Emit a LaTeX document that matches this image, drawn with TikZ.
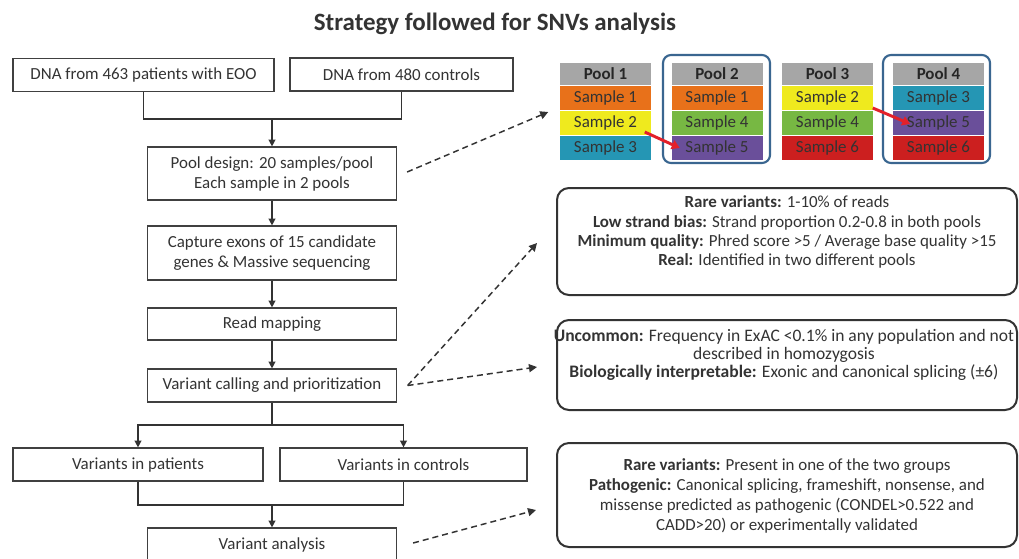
\documentclass[tikz,border=0pt]{standalone}
\usepackage{fontspec}
\setmainfont{Carlito}
\usetikzlibrary{arrows.meta,calc}

\definecolor{ink}{HTML}{333333}
\definecolor{boxc}{HTML}{404040}
\definecolor{hdr}{HTML}{A6A6A6}
\definecolor{orng}{HTML}{E8711A}
\definecolor{yell}{HTML}{EFEA1E}
\definecolor{teal}{HTML}{2596B4}
\definecolor{grn}{HTML}{77B843}
\definecolor{purp}{HTML}{6A4F9A}
\definecolor{redc}{HTML}{CC1F1F}
\definecolor{framec}{HTML}{3A6690}
\definecolor{arrred}{HTML}{E3202A}

\newdimen\upx
\upx=0.75pt
\newcommand\lfont{\fontsize{12.7}{15}\selectfont}
\newcommand\rfont{\fontsize{12.7}{14.3}\selectfont}
\newcommand\ufont{\fontsize{13.15}{13.8}\selectfont}
\newcommand\pfont{\fontsize{12.7}{15.2}\selectfont}
\newcommand\tfont{\fontsize{18.7}{22}\selectfont\bfseries}

\begin{document}
\begin{tikzpicture}[x=0.75pt,y=-0.75pt,
  lbox/.style={draw=boxc, line width=0.9pt, fill=white, align=center,
    inner sep=0pt, font=\lfont, text=ink, minimum width=249\upx},
  conn/.style={draw=ink, line width=1pt},
  arr/.style={conn, -{Triangle[width=5pt,length=5pt]}},
  cell/.style={minimum width=92\upx, minimum height=25\upx, inner sep=0pt,
    draw=white, line width=0.4pt, font=\lfont, text=black!80},
  hcell/.style={cell, minimum height=23\upx, fill=hdr, font=\lfont\bfseries, text=black!85},
  frame/.style={draw=framec, line width=1.6pt, rounded corners=6pt,
    minimum width=107\upx, minimum height=108\upx, inner sep=0pt},
  redarr/.style={draw=arrred, line width=2.2pt, -{Triangle[width=7pt,length=6pt]}},
  rbox/.style={draw=ink, line width=1.5pt, rounded corners=9pt,
    minimum width=460\upx, inner sep=0pt},
  rtext/.style={align=center, font=\rfont, text=ink, inner sep=0pt},
  dasharr/.style={draw=ink, line width=1.1pt, dash pattern=on 4.5pt off 3pt,
    -{Triangle[width=6pt,length=6pt]}}]

\useasboundingbox (0,0) rectangle (1019,558);
\fill[white] (0,0) rectangle (1019,558);

% title
\node[font=\tfont, text=ink, anchor=base, inner sep=0pt] (title) at (495,30)
  {Strategy followed for SNVs analysis};

% workflow on the left
\node[lbox, minimum width=261\upx, minimum height=33\upx] (pat) at (143.5,75)
  {DNA from 463 patients with EOO};
\node[lbox, minimum width=223\upx, minimum height=33\upx] (ctl) at (401.5,74.5)
  {DNA from 480 controls};
\node[lbox, minimum height=53\upx] (pool) at (272,173.5)
  {Pool design: 20 samples/pool\\Each sample in 2 pools};
\node[lbox, minimum height=54\upx] (capt) at (272,253)
  {Capture exons of 15 candidate\\genes \& Massive sequencing};
\node[lbox, minimum height=32\upx] (map) at (272,324) {Read mapping};
\node[lbox, minimum height=33\upx] (call) at (272,385.5)
  {Variant calling and prioritization};
\node[lbox, minimum width=250\upx, minimum height=33\upx] (vpat) at (138,464.5)
  {Variants in patients};
\node[lbox, minimum width=247\upx, minimum height=33\upx] (vctl) at (403.5,464.5)
  {Variants in controls};
\node[lbox, minimum height=33\upx] (ana) at (272,544.5) {Variant analysis};

\coordinate (j1) at (272,119);
\draw[conn] (pat.south) |- (j1) -| (ctl.south);
\draw[arr] (j1) -- (pool.north);
\draw[arr] (pool) -- (capt);
\draw[arr] (capt) -- (map);
\draw[arr] (map) -- (call);
\coordinate (j2) at (272,425);
\draw[conn] (call.south) -- (j2);
\draw[arr] (j2) -| (vpat.north);
\draw[arr] (j2) -| (vctl.north);
\coordinate (j3) at (272,505);
\draw[conn] (vpat.south) |- (j3) -| (vctl.south);
\draw[arr] (j3) -- (ana.north);

% pool tables
\node[frame] (f2) at (716.5,109) {};
\node[frame] (f4) at (936.5,109) {};

\node[hcell] (p1h) at (605.5,73.5) {Pool 1};
\node[cell, fill=orng] (p1a) at (605.5,97.5) {Sample 1};
\node[cell, fill=yell] (p1b) at (605.5,122.5) {Sample 2};
\node[cell, fill=teal] (p1c) at (605.5,147.5) {Sample 3};

\node[hcell] (p2h) at (717,73.5) {Pool 2};
\node[cell, fill=orng] (p2a) at (717,97.5) {Sample 1};
\node[cell, fill=grn] (p2b) at (717,122.5) {Sample 4};
\node[cell, fill=purp] (p2c) at (717,147.5) {Sample 5};

\node[hcell] (p3h) at (827.5,73.5) {Pool 3};
\node[cell, fill=yell] (p3a) at (827.5,97.5) {Sample 2};
\node[cell, fill=grn] (p3b) at (827.5,122.5) {Sample 4};
\node[cell, fill=redc] (p3c) at (827.5,147.5) {Sample 6};

\node[hcell] (p4h) at (938.5,73.5) {Pool 4};
\node[cell, fill=teal] (p4a) at (938.5,97.5) {Sample 3};
\node[cell, fill=purp] (p4b) at (938.5,122.5) {Sample 5};
\node[cell, fill=redc] (p4c) at (938.5,147.5) {Sample 6};

\draw[redarr] ($(p1b.east)+(-7,9.5)$) -- ($(p2c.west)+(9,0.5)$);
\draw[redarr] ($(p3a.east)+(-1,10.5)$) -- ($(p4b.west)+(18,1.5)$);

% filter criteria
\node[rbox, minimum height=107\upx] (rare) at (787,241.5) {};
\node[rtext] (raretx) at (787,232)
  {\textbf{Rare variants:} 1-10\% of reads\\
   \textbf{Low strand bias:} Strand proportion 0.2-0.8 in both pools\\
   \textbf{Minimum quality:} Phred score >5 / Average base quality >15\\
   \textbf{Real:} Identified in two different pools};

\node[rbox, minimum height=90\upx] (unc) at (787,365) {};
\node[rtext, font=\ufont] (unctx) at (784,355)
  {\textbf{Uncommon:} Frequency in ExAC <0.1\% in any population and not\\
   described in homozygosis\\
   \textbf{Biologically interpretable:} Exonic and canonical splicing (±6)};

\node[rbox, minimum height=104\upx] (patho) at (787,495) {};
\node[rtext, font=\pfont] (pathotx) at (787,496)
  {\textbf{Rare variants:} Present in one of the two groups\\
   \textbf{Pathogenic:} Canonical splicing, frameshift, nonsense, and\\
   missense predicted as pathogenic (CONDEL>0.522 and\\
   CADD>20) or experimentally validated};

% dashed links
\draw[dasharr] ($(pool.east)+(10,-1.5)$) -- ($(p1b.west)+(-11,-10.5)$);
\draw[dasharr] ($(call.east)+(10.5,0)$) -- ($(rare.west)+(-19,1.5)$);
\draw[dasharr] ($(call.east)+(10.5,0)$) -- ($(unc.west)+(-19,2)$);
\draw[dasharr] ($(ana.east)+(16,-1.5)$) -- ($(patho.west)+(-20,15)$);
\end{tikzpicture}
\end{document}
